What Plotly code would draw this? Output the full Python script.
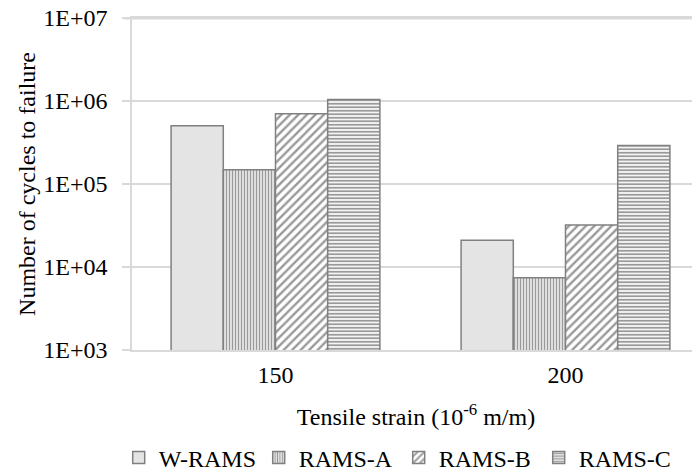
import plotly.graph_objects as go

categories = ["150", "200"]
series_names = ["W-RAMS", "RAMS-A", "RAMS-B", "RAMS-C"]
w_rams = [5.05e5, 2.1e4]
rams_a = [1.48e5, 7.4e3]
rams_b = [7.0e5, 3.2e4]
rams_c = [1.04e6, 2.9e5]
y_tick_vals = [1e3, 1e4, 1e5, 1e6, 1e7]
y_tick_text = ["1E+03", "1E+04", "1E+05", "1E+06", "1E+07"]

FONT = "Liberation Serif"
FS = 24
EDGE = "#808080"
GRID = "#d9d9d9"

styles = [
    dict(color="#e4e4e4"),
    dict(color="white", pattern=dict(shape="|", fgcolor="#9a9a9a", bgcolor="white", size=3, solidity=0.55, fillmode="replace")),
    dict(color="white", pattern=dict(shape="/", fgcolor="#9a9a9a", bgcolor="white", size=6, solidity=0.4, fillmode="replace")),
    dict(color="white", pattern=dict(shape="-", fgcolor="#9a9a9a", bgcolor="white", size=3.5, solidity=0.55, fillmode="replace")),
]

fig = go.Figure()
for name, vals, st in zip(series_names, [w_rams, rams_a, rams_b, rams_c], styles):
    marker = dict(line=dict(color=EDGE, width=1.5), **st)
    fig.add_trace(go.Bar(x=categories, y=vals, name=name, marker=marker))

# top gridline (1E+07), drawn as a paper-referenced line at the top of the plot area
fig.add_shape(type="line", xref="paper", yref="paper", x0=-0.014, x1=1, y0=0.998, y1=0.998,
              line=dict(color=GRID, width=1.5), layer="below")

fig.update_layout(
    width=692, height=463,
    margin=dict(l=124, r=0, t=10, b=121, autoexpand=False),
    paper_bgcolor="white", plot_bgcolor="white",
    font=dict(family=FONT, size=FS, color="#000000"),
    barmode="group", bargap=0.28, bargroupgap=0,
    showlegend=True,
    legend=dict(orientation="h", x=-0.0234, xanchor="left", yref="paper", y=-0.325, yanchor="middle",
                font=dict(family=FONT, size=FS), entrywidth=95, traceorder="normal"),
    xaxis=dict(type="category", range=[-0.4948, 1.4638], showgrid=False, showline=True, mirror=True,
               automargin=False, linecolor=GRID, linewidth=1.5, ticks="", ticklabelstandoff=2,
               title=dict(text="Tensile strain (10<sup>-6</sup> m/m)", standoff=22, font=dict(family=FONT, size=FS))),
    yaxis=dict(type="log", range=[3, 7], tickvals=y_tick_vals, ticktext=y_tick_text, automargin=False,
               showgrid=True, gridcolor=GRID, gridwidth=1.5, showline=True,
               linecolor=GRID, linewidth=1.5, ticks="outside", ticklen=8, tickcolor=GRID,
               tickwidth=1.5, ticklabelstandoff=10, ticklabeloverflow="allow",
               title=dict(text="Number of cycles to failure", standoff=1, font=dict(family=FONT, size=FS))),
)

fig.write_html("out.html")
